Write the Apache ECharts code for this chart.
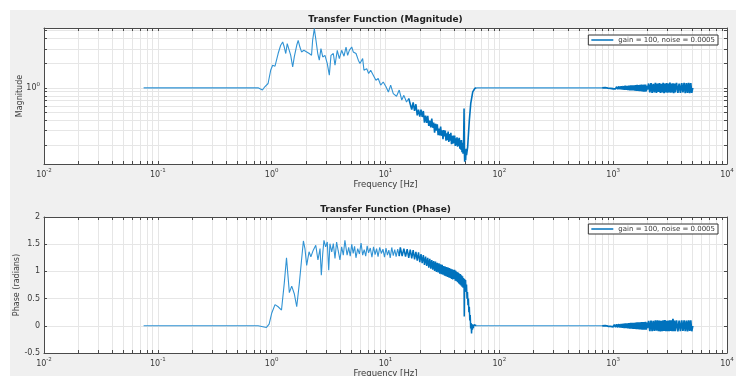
<!DOCTYPE html>
<html>
<head>
<meta charset="utf-8">
<title>Transfer Function</title>
<script src="https://cdn.jsdelivr.net/npm/echarts@6/dist/echarts.min.js"></script>
<style>
  html, body { margin: 0; padding: 0; background: #fff; }
  #chart { width: 736px; height: 376px; }
</style>
</head>
<body>
<div id="chart"></div>
<script>
// values (frequency in Hz)
const seriesName = 'gain = 100, noise = 0.0005';

// magnitude, 0.075 .. 16 Hz
const magFreqLow = [
  0.075, 0.76, 0.83, 0.87, 0.93, 0.98, 1.02, 1.07, 1.14, 1.20,
  1.25, 1.29, 1.33, 1.37, 1.42, 1.47, 1.53, 1.58, 1.66, 1.71,
  1.77, 1.83, 1.92, 2.03, 2.14, 2.24, 2.29, 2.37, 2.45, 2.54,
  2.62, 2.71, 2.81, 2.94, 3.08, 3.21, 3.32, 3.48, 3.60, 3.77,
  3.93, 4.12, 4.32, 4.50, 4.65, 4.81, 5.05, 5.21, 5.51, 5.77,
  5.97, 6.30, 6.47, 6.84, 7.11, 7.41, 7.81, 8.24, 8.63, 9.07,
  9.55, 10.1, 10.6, 11.1, 11.7, 12.5, 13.2, 13.9, 14.5, 15.3,
  16.0
];
const magLow = [
  1.00, 1.00, 0.94, 1.03, 1.13, 1.64, 1.89, 1.84, 2.63, 3.32,
  3.64, 3.16, 2.63, 3.48, 3.41, 2.50, 1.80, 2.39, 3.32, 3.82,
  3.16, 2.75, 2.88, 2.75, 2.63, 2.50, 3.82, 5.30, 3.82, 2.63,
  2.18, 3.02, 2.39, 2.50, 1.98, 1.43, 2.50, 2.63, 1.89, 2.88,
  2.28, 2.88, 2.44, 3.16, 2.50, 2.88, 3.16, 2.75, 2.63, 2.18,
  1.98, 2.28, 1.64, 1.72, 1.50, 1.64, 1.43, 1.24, 1.30, 1.08,
  1.18, 1.03, 0.89, 1.08, 0.85, 0.79, 0.94, 0.71, 0.81, 0.67,
  0.74
];

// magnitude, noisy roll-off 16.5 .. 48 Hz
const magFreqBand = [
  16.5, 17, 17.5, 18, 18.5, 19, 19.5, 20, 20.5, 21,
  21.5, 22, 22.5, 23, 23.5, 24, 24.5, 25, 25.5, 26,
  26.5, 27, 27.5, 28, 28.5, 29, 29.5, 30, 30.5, 31,
  31.5, 32, 32.5, 33, 33.5, 34, 34.5, 35, 35.5, 36,
  36.5, 37, 37.5, 38, 38.5, 39, 39.5, 40, 40.5, 41,
  41.5, 42, 42.5, 43, 43.5, 44, 44.5, 45, 45.5, 46,
  46.5, 47, 47.5, 48
];
const magBand = [
  0.707, 0.543, 0.664, 0.524, 0.630, 0.461, 0.542, 0.445, 0.541, 0.440,
  0.521, 0.375, 0.458, 0.374, 0.455, 0.342, 0.397, 0.328, 0.420, 0.325,
  0.375, 0.283, 0.364, 0.299, 0.357, 0.264, 0.317, 0.261, 0.337, 0.259,
  0.303, 0.236, 0.305, 0.254, 0.300, 0.226, 0.278, 0.229, 0.291, 0.218,
  0.272, 0.225, 0.281, 0.205, 0.259, 0.207, 0.261, 0.211, 0.260, 0.195,
  0.242, 0.198, 0.249, 0.190, 0.240, 0.194, 0.245, 0.180, 0.228, 0.175,
  0.230, 0.163, 0.212, 0.156
];

// magnitude, notch and recovery 48.5 .. 63 Hz
const magFreqDip = [48.5, 49.0, 49.3, 49.6, 50.0, 50.3, 50.6, 51.0, 51.5, 52.7, 54.5, 56.1, 58.4, 61.1, 63];
const magDip = [0.19, 0.56, 0.17, 0.125, 0.12, 0.16, 0.13, 0.18, 0.15, 0.19, 0.40, 0.645, 0.894, 0.99, 1.0];

// phase, 0.075 .. 4.4 Hz
const phaseFreqLow = [
  0.075, 0.76, 0.90, 0.95, 1.0, 1.07, 1.14, 1.22, 1.29, 1.35,
  1.43, 1.50, 1.58, 1.66, 1.75, 1.83, 1.90, 1.96, 2.03, 2.13,
  2.21, 2.32, 2.44, 2.55, 2.66, 2.73, 2.81, 2.88, 2.98, 3.08,
  3.17, 3.25, 3.37, 3.48, 3.60, 3.72, 3.84, 3.98, 4.12, 4.26,
  4.40
];
const phaseLow = [
  0, 0, -0.03, 0.03, 0.23, 0.39, 0.35, 0.29, 0.78, 1.25,
  0.61, 0.73, 0.59, 0.35, 0.78, 1.21, 1.56, 1.42, 1.11, 1.36,
  1.27, 1.39, 1.48, 1.21, 1.42, 0.93, 1.33, 1.57, 1.45, 1.54,
  1.02, 1.51, 1.36, 1.51, 1.24, 1.54, 1.38, 1.21, 1.45, 1.30,
  1.57
];

// phase, plateau 4.6 .. 13.2 Hz
const phaseFreqMid = [
  4.6, 4.75, 4.9, 5.05, 5.2, 5.35, 5.5, 5.7, 5.9, 6.1,
  6.3, 6.5, 6.7, 6.9, 7.1, 7.35, 7.6, 7.85, 8.1, 8.35,
  8.6, 8.9, 9.2, 9.5, 9.8, 10.1, 10.4, 10.7, 11.0, 11.35,
  11.7, 12.05, 12.4, 12.8, 13.2
];
const phaseMid = [
  1.30, 1.44, 1.28, 1.50, 1.33, 1.46, 1.25, 1.42, 1.32, 1.52,
  1.30, 1.40, 1.28, 1.47, 1.34, 1.43, 1.26, 1.45, 1.31, 1.42,
  1.27, 1.44, 1.33, 1.41, 1.26, 1.43, 1.30, 1.39, 1.25, 1.44,
  1.29, 1.40, 1.27, 1.41, 1.28
];

// phase, noisy decline 13.5 .. 48 Hz
const phaseFreqBand = [
  13.5, 14, 14.5, 15, 15.5, 16, 16.5, 17, 17.5, 18,
  18.5, 19, 19.5, 20, 20.5, 21, 21.5, 22, 22.5, 23,
  23.5, 24, 24.5, 25, 25.5, 26, 26.5, 27, 27.5, 28,
  28.5, 29, 29.5, 30, 30.5, 31, 31.5, 32, 32.5, 33,
  33.5, 34, 34.5, 35, 35.5, 36, 36.5, 37, 37.5, 38,
  38.5, 39, 39.5, 40, 40.5, 41, 41.5, 42, 42.5, 43,
  43.5, 44, 44.5, 45, 45.5, 46, 46.5, 47, 47.5, 48
];
const phaseBand = [
  1.44, 1.28, 1.42, 1.27, 1.41, 1.25, 1.40, 1.24, 1.39, 1.22,
  1.36, 1.20, 1.35, 1.17, 1.32, 1.15, 1.30, 1.12, 1.27, 1.10,
  1.25, 1.07, 1.23, 1.05, 1.21, 1.03, 1.19, 1.01, 1.18, 0.99,
  1.16, 0.98, 1.15, 0.96, 1.13, 0.95, 1.12, 0.94, 1.10, 0.92,
  1.09, 0.91, 1.08, 0.90, 1.07, 0.89, 1.06, 0.88, 1.05, 0.86,
  1.04, 0.85, 1.03, 0.86, 1.03, 0.83, 1.01, 0.82, 0.99, 0.80,
  0.98, 0.78, 0.96, 0.76, 0.95, 0.74, 0.93, 0.72, 0.91, 0.70
];

// phase, drop to zero 48.5 .. 63 Hz
const phaseFreqDrop = [
  48.5, 49, 49.2, 49.5, 50, 50.5, 51, 51.5, 52, 52.5,
  53, 53.5, 54, 54.5, 55, 55.5, 56, 56.5, 57, 57.5,
  58, 58.5, 59, 60, 61, 63
];
const phaseDrop = [
  0.88, 0.70, 0.17, 0.86, 0.72, 0.84, 0.62, 0.76, 0.50, 0.62,
  0.38, 0.50, 0.25, 0.35, 0.10, 0.20, -0.05, 0.05, -0.14, 0.03,
  -0.07, 0.02, -0.04, 0.02, -0.01, 0
];

// both plots, 800 .. 5000 Hz (noise band)
const hfFreq = [
  800, 850, 900, 925, 950, 975, 1000, 1025, 1050, 1075,
  1100, 1125, 1150, 1175, 1200, 1225, 1250, 1275, 1300, 1325,
  1350, 1375, 1400, 1425, 1450, 1475, 1500, 1525, 1550, 1575,
  1600, 1625, 1650, 1675, 1700, 1725, 1750, 1775, 1800, 1825,
  1850, 1875, 1900, 1925, 1950, 1975, 2000, 2050, 2100, 2150,
  2200, 2250, 2300, 2350, 2400, 2450, 2500, 2550, 2600, 2650,
  2700, 2750, 2800, 2850, 2900, 2950, 3000, 3050, 3100, 3150,
  3200, 3250, 3300, 3350, 3400, 3450, 3500, 3600, 3700, 3800,
  3900, 4000, 4100, 4200, 4300, 4400, 4500, 4600, 4700, 4800,
  4900, 5000
];
const hfMag = [
  1.0, 1.005, 0.99, 1.015, 0.985, 1.02, 0.975, 1.03, 0.97, 1.03,
  0.965, 1.04, 0.96, 1.045, 0.955, 1.05, 0.95, 1.06, 0.945, 1.055,
  0.94, 1.065, 0.935, 1.07, 0.93, 1.075, 0.93, 1.07, 0.925, 1.08,
  0.92, 1.085, 0.915, 1.08, 0.91, 1.09, 0.91, 1.095, 0.905, 1.09,
  0.9, 1.1, 0.9, 1.095, 0.905, 1.06, 0.95, 1.13, 0.88, 1.14,
  0.87, 1.12, 0.88, 1.15, 0.87, 1.13, 0.89, 1.14, 0.87, 1.12,
  0.88, 1.15, 0.86, 1.13, 0.88, 1.14, 0.87, 1.13, 0.88, 1.16,
  0.87, 1.13, 0.88, 1.14, 0.86, 1.13, 0.88, 1.15, 0.87, 1.13,
  0.87, 1.14, 0.88, 1.15, 0.86, 1.14, 0.87, 1.15, 0.86, 1.14,
  0.87, 1.0
];
const hfPhase = [
  0, 0.005, -0.008, 0.012, -0.012, 0.016, -0.018, 0.022, -0.024, 0.026,
  -0.028, 0.03, -0.032, 0.035, -0.036, 0.038, -0.04, 0.042, -0.044, 0.046,
  -0.045, 0.048, -0.05, 0.052, -0.05, 0.054, -0.055, 0.056, -0.058, 0.06,
  -0.06, 0.062, -0.062, 0.064, -0.066, 0.065, -0.068, 0.07, -0.07, 0.068,
  -0.072, 0.07, -0.07, 0.072, -0.07, 0.06, -0.04, 0.09, -0.1, 0.095,
  -0.1, 0.09, -0.095, 0.1, -0.09, 0.1, -0.1, 0.095, -0.105, 0.09,
  -0.1, 0.1, -0.095, 0.105, -0.1, 0.09, -0.1, 0.095, -0.1, 0.1,
  -0.095, 0.1, -0.1, 0.13, -0.1, 0.095, -0.1, 0.1, -0.105, 0.095,
  -0.1, 0.1, -0.095, 0.1, -0.1, 0.095, -0.105, 0.1, -0.095, 0.1,
  -0.1, 0
];

// axes
const xDecades = [0.01, 0.1, 1, 10, 100, 1000, 10000];
const magTicks = [0.2, 0.3, 0.4, 0.5, 0.6, 0.7, 0.8, 0.9, 1, 2, 3, 4, 5];
const magLabels = [1];
const magRange = [0.117, 5.4];
const phaseRange = [-0.5, 2];

const font = 'DejaVu Sans';
const axisColor = '#4a4a4a';
const textColor = '#3a3a3a';
const gridColor = '#e6e6e6';
const lineDark = '#0072bd';
const lineLight = '#3193d4';

// minor log ticks 2..9 in every decade
const xTicks = [];
xDecades.forEach(function (d, i) {
  xTicks.push(d);
  if (i < xDecades.length - 1) {
    for (let k = 2; k <= 9; k++) xTicks.push(+(k * d).toPrecision(3));
  }
});

function zip(f, v) {
  return f.map(function (x, i) { return [x, v[i]]; });
}
function last(a) { return a[a.length - 1]; }

// the dense, noisy stretches are stroked a little heavier so they read as a band
function line(data, axis, width, color) {
  return {
    name: seriesName, type: 'line', xAxisIndex: axis * 2, yAxisIndex: axis * 2,
    data: data, symbol: 'none', showSymbol: false, silent: true,
    lineStyle: { color: color, width: width }, itemStyle: { color: lineDark }
  };
}

const series = [
  line(zip(magFreqLow, magLow), 0, 1.1, lineLight),
  line(zip([last(magFreqLow)].concat(magFreqBand, magFreqDip), [last(magLow)].concat(magBand, magDip)), 0, 1.6, lineDark),
  line(zip([last(magFreqDip), hfFreq[0]], [last(magDip), hfMag[0]]), 0, 1.1, lineLight),
  line(zip(hfFreq, hfMag), 0, 1.8, lineDark),
  line(zip(phaseFreqLow.concat(phaseFreqMid), phaseLow.concat(phaseMid)), 1, 1.1, lineLight),
  line(zip([last(phaseFreqMid)].concat(phaseFreqBand, phaseFreqDrop), [last(phaseMid)].concat(phaseBand, phaseDrop)), 1, 1.5, lineDark),
  line(zip([last(phaseFreqDrop), hfFreq[0]], [last(phaseDrop), hfPhase[0]]), 1, 1.1, lineLight),
  line(zip(hfFreq, hfPhase), 1, 1.8, lineDark)
];

const powRich = {
  b: { fontSize: 8, color: textColor, fontFamily: font },
  s: { fontSize: 5.5, color: textColor, fontFamily: font, padding: [0, 0, 7, 0] }
};
function powLabel(v) {
  return '{b|10}{s|' + Math.round(Math.log10(v)) + '}';
}

function xAxes(gi) {
  const common = {
    type: 'log', logBase: 10, gridIndex: gi, min: 0.01, max: 10000,
    axisLine: { show: true, onZero: false, lineStyle: { color: axisColor, width: 1 } },
    axisTick: { show: true, inside: true, length: 3, customValues: xTicks,
      lineStyle: { color: axisColor, width: 1 } }
  };
  return [
    Object.assign({}, common, {
      position: 'bottom',
      axisLabel: { customValues: xDecades, formatter: powLabel, rich: powRich, margin: 4 },
      splitLine: { show: true, lineStyle: { color: gridColor, width: 1 } },
      name: 'Frequency [Hz]', nameLocation: 'middle', nameGap: 16, nameMoveOverlap: false,
      nameTextStyle: { fontSize: 8.5, color: textColor, fontFamily: font }
    }),
    Object.assign({}, common, {
      position: 'top',
      axisLabel: { show: false },
      splitLine: { show: false }
    })
  ];
}

function yAxes(gi, extra) {
  const common = Object.assign({
    gridIndex: gi,
    axisLine: { show: true, onZero: false, lineStyle: { color: axisColor, width: 1 } },
    axisTick: { show: true, inside: true, length: 3, lineStyle: { color: axisColor } }
  }, extra.scale);
  if (extra.ticks) common.axisTick = Object.assign({}, common.axisTick, { customValues: extra.ticks });
  return [
    Object.assign({}, common, {
      position: 'left',
      axisLabel: Object.assign({ fontSize: 8, color: textColor, fontFamily: font, margin: 4 }, extra.label),
      splitLine: { show: true, lineStyle: { color: gridColor, width: 1 } },
      name: extra.name, nameLocation: 'middle', nameGap: extra.nameGap, nameMoveOverlap: false,
      nameTextStyle: { fontSize: 8, color: textColor, fontFamily: font }
    }),
    Object.assign({}, common, {
      position: 'right', axisLabel: { show: false }, splitLine: { show: false }
    })
  ];
}

const legendBase = {
  right: 18, padding: [1, 3, 1, 3], itemWidth: 22, itemHeight: 1.5, itemGap: 0,
  borderColor: '#333', borderWidth: 1, borderRadius: 0, backgroundColor: '#fff',
  textStyle: { fontSize: 7, color: textColor, fontFamily: font, lineHeight: 8 },
  data: [{ name: seriesName, icon: 'rect' }], selectedMode: false
};

const chart = echarts.init(document.getElementById('chart'), null, { renderer: 'canvas' });

chart.setOption({
  animation: false,
  backgroundColor: '#fff',
  textStyle: { fontFamily: font },
  graphic: [
    { type: 'rect', z: -100, silent: true, shape: { x: 10, y: 10, width: 726, height: 366 },
      style: { fill: '#f0f0f0' } },
    { type: 'text', x: 385.5, y: 19.5, silent: true,
      style: { text: 'Transfer Function (Magnitude)', font: 'bold 9px "DejaVu Sans"',
        fill: '#222', align: 'center', verticalAlign: 'middle' } },
    { type: 'text', x: 385.5, y: 209.5, silent: true,
      style: { text: 'Transfer Function (Phase)', font: 'bold 9px "DejaVu Sans"',
        fill: '#222', align: 'center', verticalAlign: 'middle' } }
  ],
  legend: [
    Object.assign({}, legendBase, { top: 35 }),
    Object.assign({}, legendBase, { top: 224 })
  ],
  grid: [
    { left: 44, right: 9, top: 28, height: 136, show: true, backgroundColor: '#fff', borderWidth: 0,
      outerBoundsMode: 'none' },
    { left: 44, right: 9, top: 217, height: 136, show: true, backgroundColor: '#fff', borderWidth: 0,
      outerBoundsMode: 'none' }
  ],
  xAxis: xAxes(0).concat(xAxes(1)),
  yAxis: yAxes(0, {
    scale: { type: 'log', logBase: 10, min: magRange[0], max: magRange[1] },
    ticks: magTicks,
    label: { customValues: magLabels, formatter: powLabel, rich: powRich },
    name: 'Magnitude', nameGap: 20
  }).concat(yAxes(1, {
    scale: { type: 'value', min: phaseRange[0], max: phaseRange[1], interval: 0.5 },
    label: {},
    name: 'Phase (radians)', nameGap: 23
  })),
  series: series
});
</script>
</body>
</html>
